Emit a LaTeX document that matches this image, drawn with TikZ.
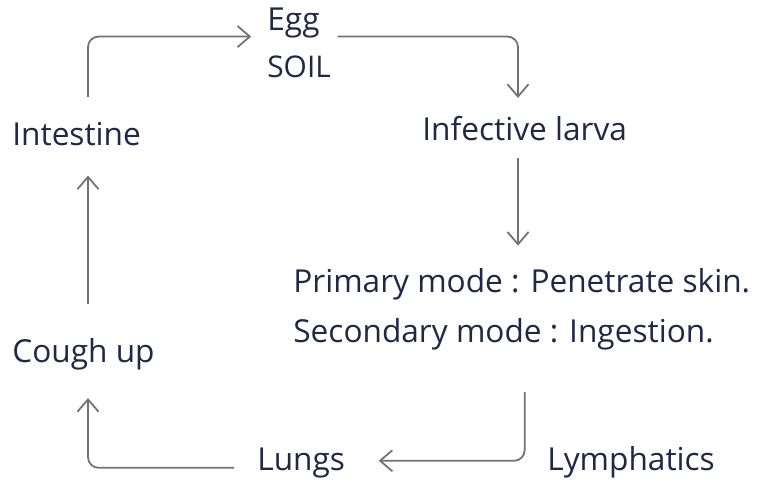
\documentclass[tikz,border=0pt]{standalone}
\usepackage{fontspec}
\setmainfont{Open Sans}
\usepackage{tikz}
\usetikzlibrary{arrows.meta}
\definecolor{ink}{HTML}{1E2847}
\definecolor{pencil}{HTML}{727272}

\begin{document}
\begin{tikzpicture}[x=0.02cm,y=-0.02cm, every node/.style={text=ink,inner sep=0pt,font=\fontsize{18}{28}\selectfont},stage/.style={anchor=base west},arr/.style={draw=pencil,line width=1pt,rounded corners=6pt,-{Straight Barb[length=7pt,width=12pt]}}]
\path[fill=white] (0,0) rectangle (765,481);
\coordinate (west) at (88,0);
\coordinate (east) at (518,0);
\node[stage] (egg) at (267,30) {Egg};
\node[stage,font=\fontsize{17}{20}\selectfont] (soil) at (267,77) {SOIL};
\node[stage] (intestine) at (12,145) {Intestine};
\node[stage] (larva) at (422,140) {Infective larva};
% base of a two-line node sits on its last line
\node[stage,align=left] (modes) at (293,342) {Primary mode : Penetrate skin.\\Secondary mode : Ingestion.};
\node[stage] (cough) at (12,362) {Cough up};
\node[stage] (lungs) at (257,470) {Lungs};
\node[stage] (lymph) at (547,470) {Lymphatics};
% life cycle, clockwise from the intestine
\draw[arr,shorten <=14pt,shorten >=9pt] (intestine.north -| west) |- ([yshift=-8pt]egg.west);
\draw[arr,shorten <=10pt,shorten >=10pt] ([yshift=-8pt]egg.east) -| (larva.north -| east);
\draw[arr,shorten <=10pt,shorten >=13pt] (larva.south -| east) -- (modes.north -| east);
\draw[arr,shorten <=24pt,shorten >=19pt] (modes.south -| larva.south) |- ([yshift=1pt]lungs.east);
\draw[arr,shorten <=13pt,shorten >=16pt] ([yshift=-3pt]lungs.west) -| (cough.south -| west);
\draw[arr,shorten <=19pt,shorten >=17pt] (cough.north -| west) -- (intestine.south -| west);
\end{tikzpicture}
\end{document}
